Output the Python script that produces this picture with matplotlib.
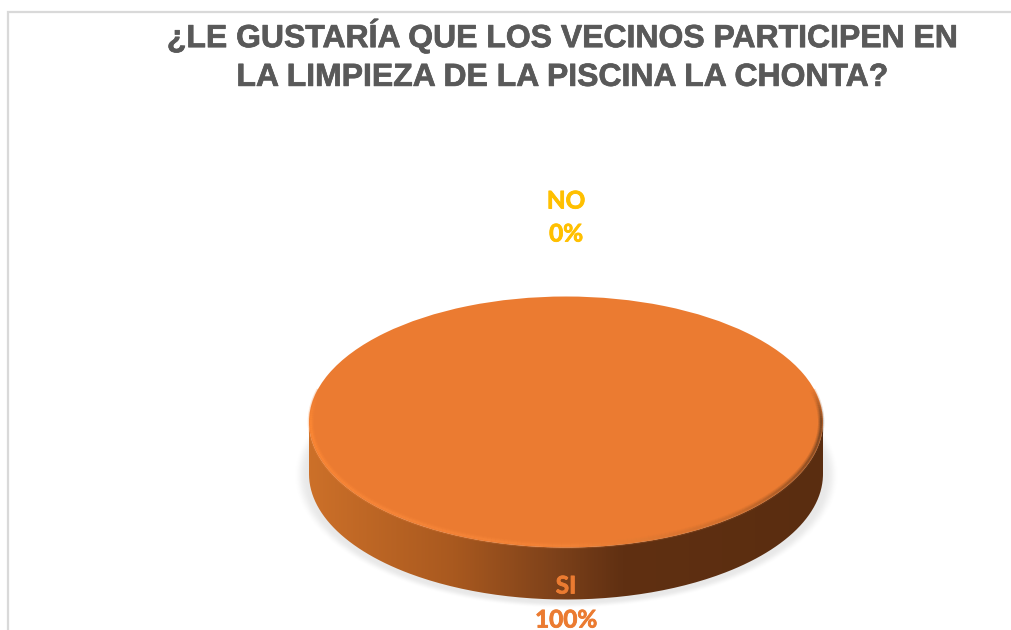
import numpy as np
import matplotlib
matplotlib.use('Agg')
import matplotlib.pyplot as plt
import matplotlib.patheffects as pe
from matplotlib.collections import LineCollection
from matplotlib.patches import PathPatch
from matplotlib.path import Path
from matplotlib.colors import LinearSegmentedColormap, to_rgb

title = '¿LE GUSTARÍA QUE LOS VECINOS PARTICIPEN EN\nLA LIMPIEZA DE LA PISCINA LA CHONTA?'
categories = ['SI', 'NO']
values = [100, 0]
colors = ['#EB7B31', '#FFC000']

W, H = 1011, 630
cx, cy = 566, 422      # centre of the disc top, pixels
rx, ry = 257, 125.5    # disc radii, pixels
depth = 52 / ry        # disc thickness in axis units


def px(x, y):
    # pixel position to axis units
    return (x - cx) / rx, (cy - y) / ry


fig = plt.figure(figsize=(W / 100, H / 100), dpi=100, facecolor='white')
ax = fig.add_axes([0, 0, 1, 1])

# soft shadow under the disc
gy = np.linspace(-2.0, 0.6, 400)
gx, gy = np.meshgrid(np.linspace(-1.3, 1.3, 600), gy)
d = np.sqrt((gx / 1.03) ** 2 + ((gy + depth * 1.03) / 1.03) ** 2)
fade = np.clip((1.03 - d) / 0.05, 0, 1)
shadow = np.zeros(d.shape + (4,))
shadow[..., :3] = 0.6
shadow[..., 3] = 0.22 * fade ** 2 * (3 - 2 * fade)
ax.imshow(shadow, extent=(-1.3, 1.3, -2.0, 0.6), origin='lower', aspect='auto', zorder=1)

# side wall of the disc, shaded from left to right
wall_cmap = LinearSegmentedColormap.from_list('wall', [
    (0.0, '#CC7029'), (0.28, '#A9591F'), (0.48, '#7D411A'),
    (0.61, '#603012'), (1.0, '#5A2D10')])
ramp = np.linspace(0, 1, 512).reshape(1, -1)
wall = ax.imshow(ramp, extent=(-1, 1, -1.6, 0.2), cmap=wall_cmap, aspect='auto', zorder=2)
t = np.linspace(np.pi, 2 * np.pi, 200)
outline = np.vstack([np.c_[np.cos(t), np.sin(t) - depth],
                     np.c_[np.cos(t[::-1]), np.sin(t[::-1])]])
clip = PathPatch(Path(outline), transform=ax.transData, fc='none', ec='none')
ax.add_patch(clip)
wall.set_clip_path(clip)

# top face
ax.pie(values, colors=colors, center=(0, 0), radius=1, startangle=90,
       wedgeprops=dict(zorder=3, linewidth=0))

# bevelled rim of the top face, a few widths stacked so the edge stays soft
angles = np.radians(np.linspace(165, 375, 211))
rim_stops = [165, 180, 225, 270, 310, 340, 360, 375]
rim_cols = ['#EB7B31', '#FF8A35', '#F9873A', '#F58538', '#C96C2C', '#7A4420', '#5E3A20', '#EB7B31']
rim_rgb = np.array([to_rgb(c) for c in rim_cols])
deg = np.degrees(angles)
seg_cols = np.c_[[np.interp(deg, rim_stops, rim_rgb[:, i]) for i in range(3)]].T
pts = np.c_[np.cos(angles) * 0.993, np.sin(angles) * 0.985]
segs = np.stack([pts[:-1], pts[1:]], axis=1)
for lw, alpha in [(4.5, 0.2), (3.0, 0.3), (1.4, 0.6)]:
    ax.add_collection(LineCollection(segs, colors=seg_cols[:-1], linewidths=lw, alpha=alpha, zorder=4))

# chart frame
ax.plot(*zip(px(8, H), px(8, 12.5), px(W, 12.5)), color='#D9D9D9', lw=1.6, zorder=5,
        solid_joinstyle='miter')

title_text = ax.text(*px(563, 56), title, ha='center', va='center', fontsize=23.0, color='#595959',
                     fontweight='bold', family='Liberation Sans', linespacing=1.38, zorder=6)
title_text.set_path_effects([pe.withStroke(linewidth=0.5, foreground='#595959')])

label_y = {'SI': (586, 620), 'NO': (201, 234)}
for cat, val, col in zip(categories, values, colors):
    name_y, pct_y = label_y[cat]
    for y, s in [(name_y, cat), (pct_y, f'{val}%')]:
        lab = ax.text(*px(566, y), s, ha='center', va='center', fontsize=17.5, color=col,
                      fontweight='bold', family='Lato', zorder=6)
        lab.set_path_effects([pe.withStroke(linewidth=0.6, foreground=col)])

ax.set_aspect('auto')
ax.set_xlim(*(px(0, 0)[0], px(W, 0)[0]))
ax.set_ylim(px(0, H)[1], px(0, 0)[1])
ax.axis('off')

fig.savefig('out.png', dpi=100)
